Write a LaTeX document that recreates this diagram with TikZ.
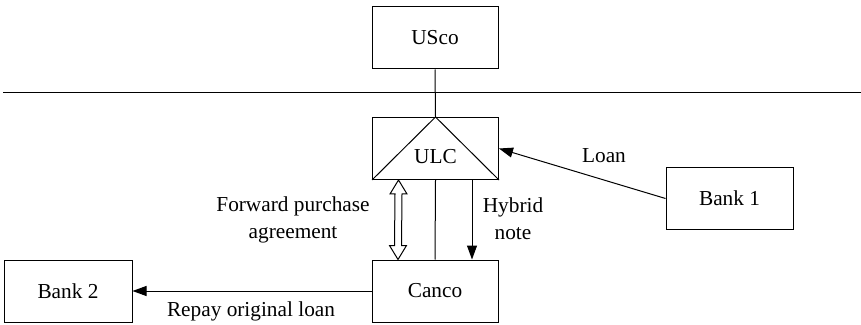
\documentclass[tikz,border=0pt]{standalone}
\usepackage{fontspec}
\setmainfont{Liberation Serif}
\usetikzlibrary{arrows.meta}
\begin{document}
\begin{tikzpicture}[x=1pt,y=1pt,
  every node/.style={font=\fontsize{21.3}{25}\selectfont},
  entity/.style={draw,line width=1pt,minimum width=126pt,minimum height=62pt,inner sep=0pt},
  conn/.style={line width=1pt},
  flow/.style={line width=1pt,-{Triangle[length=14pt,width=10pt]}},
  lbl/.style={align=center,inner sep=0pt}]
\useasboundingbox (0,0) rectangle (861,324);

% parties
\node[entity] (USco) at (435,286) {USco};
\node[entity] (ULC) at (435.5,175.5) {};
\node[lbl] (ulctext) at ([yshift=-8pt]ULC.center) {ULC};
\node[entity] (Canco) at (435,33) {Canco};
\node[entity,minimum width=127pt,minimum height=61pt] (Bank1) at (729.5,125.5) {Bank 1};
\node[entity,minimum width=128pt] (Bank2) at (68,33) {Bank 2};

% border between the two countries
\coordinate (bl) at (3,231);
\coordinate (br) at (861,231);
\draw[conn] (bl) -- (br);

% triangle marking the hybrid entity
\draw[conn] (ULC.south west) -- (ULC.north) -- (ULC.south east);

% ownership lines
\draw[conn] (USco.south) -- (ULC.north);
\draw[conn] (ULC.south) -- (Canco.north);

% loan from Bank 1
\draw[flow] (Bank1.west) -- (ULC.east);
\node[lbl] (loan) at (604,168) {Loan};

% hybrid note
\coordinate (ha) at ([xshift=36.5pt]ULC.south);
\coordinate (hb) at ([xshift=37pt]Canco.north);
\draw[flow] (ha) -- (hb);
\node[lbl] (hyb) at (513,105) {Hybrid\\[2pt]note};

% forward purchase agreement: hollow double arrow
\coordinate (fa) at ([xshift=26.5pt]ULC.south west);
\coordinate (fb) at ([xshift=26.5pt]Canco.north west);
\draw[conn,line join=miter]
  (fa) -- ([shift={(8.5,-14)}]fa) -- ([shift={(3.5,-14)}]fa)
  -- ([shift={(3.5,14)}]fb) -- ([shift={(8.5,14)}]fb) -- (fb)
  -- ([shift={(-8.5,14)}]fb) -- ([shift={(-3.5,14)}]fb)
  -- ([shift={(-3.5,-14)}]fa) -- ([shift={(-8.5,-14)}]fa) -- cycle;
\node[lbl] (fpa) at (293,104.5) {Forward purchase\\[2pt]agreement};

% repayment to Bank 2
\draw[flow] (Canco.west) -- (Bank2.east);
\node[lbl] (repay) at (251,13) {Repay original loan};
\end{tikzpicture}
\end{document}
